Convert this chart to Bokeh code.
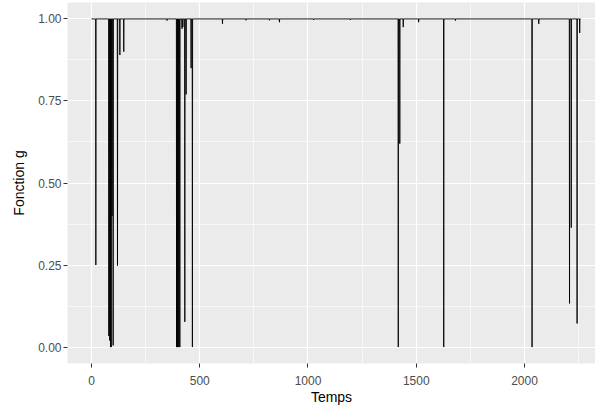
from bokeh.plotting import figure
from bokeh.models import FixedTicker, Range1d, NumeralTickFormatter
from bokeh.embed import file_html
from bokeh.resources import INLINE

# ---- data ----
t_start = 0
t_end = 2259
dip_times = [20, 80, 84, 88, 91, 95, 100, 120, 131, 149, 349, 393, 397, 400, 404, 408,
             418, 422, 431, 437, 460, 466, 605, 714, 822, 868, 1026, 1196, 1417, 1424,
             1440, 1511, 1627, 1681, 2035, 2066, 2208, 2216, 2243, 2255]
dip_values = [0.25, 0.034, 0.02, 0.0, 0.0, 0.40, 0.005, 0.248, 0.89, 0.90, 0.995, 0.0, 0.0, 0.0, 0.0, 0.0,
              0.97, 0.975, 0.077, 0.77, 0.85, 0.0, 0.985, 0.996, 0.996, 0.99, 0.997, 0.997, 0.0, 0.62,
              0.975, 0.99, 0.0, 0.995, 0.0, 0.985, 0.133, 0.364, 0.072, 0.957]
baseline = 1.0

x_ticks = [0, 500, 1000, 1500, 2000]
x_minor = [250, 750, 1250, 1750, 2250]
y_ticks = [0.0, 0.25, 0.5, 0.75, 1.0]
y_minor = [0.125, 0.375, 0.625, 0.875]

# build the line through the dips
xs = [t_start]
ys = [baseline]
for t, v in zip(dip_times, dip_values):
    xs += [t - 1, t, t + 1]
    ys += [baseline, v, baseline]
xs.append(t_end)
ys.append(baseline)

p = figure(width=595, height=408, output_backend="svg", toolbar_location=None,
           x_range=Range1d(-110.9, 2328), y_range=Range1d(-0.05, 1.05),
           min_border_left=67, min_border_right=0, min_border_top=2, min_border_bottom=45)

p.background_fill_color = "#EBEBEB"
p.border_fill_color = "white"
p.outline_line_color = None

p.line(xs, ys, line_color="black", line_width=0.9)

p.xaxis.ticker = FixedTicker(ticks=x_ticks, minor_ticks=x_minor)
p.yaxis.ticker = FixedTicker(ticks=y_ticks, minor_ticks=y_minor)
p.yaxis.formatter = NumeralTickFormatter(format="0.00")

for g in (p.xgrid, p.ygrid):
    g.grid_line_color = "white"
    g.grid_line_width = 1.2
    g.minor_grid_line_color = "white"
    g.minor_grid_line_width = 0.6

for ax in (p.xaxis, p.yaxis):
    ax.axis_line_color = None
    ax.major_tick_line_color = "#333333"
    ax.major_tick_out = 4
    ax.major_tick_in = 0
    ax.minor_tick_out = 0
    ax.minor_tick_in = 0
    ax.major_label_text_font = "Liberation Sans"
    ax.major_label_text_font_size = "12px"
    ax.major_label_text_color = "#4D4D4D"
    ax.axis_label_text_font = "Liberation Sans"
    ax.axis_label_text_font_size = "14px"
    ax.axis_label_text_font_style = "normal"
    ax.axis_label_text_color = "black"

p.xaxis.axis_label = "Temps"
p.yaxis.axis_label = "Fonction g"
p.xaxis.major_label_standoff = 8
p.xaxis.axis_label_standoff = 1
p.yaxis.major_label_standoff = 2
p.yaxis.axis_label_standoff = 8

open("out.html", "w").write(file_html(p, INLINE))
